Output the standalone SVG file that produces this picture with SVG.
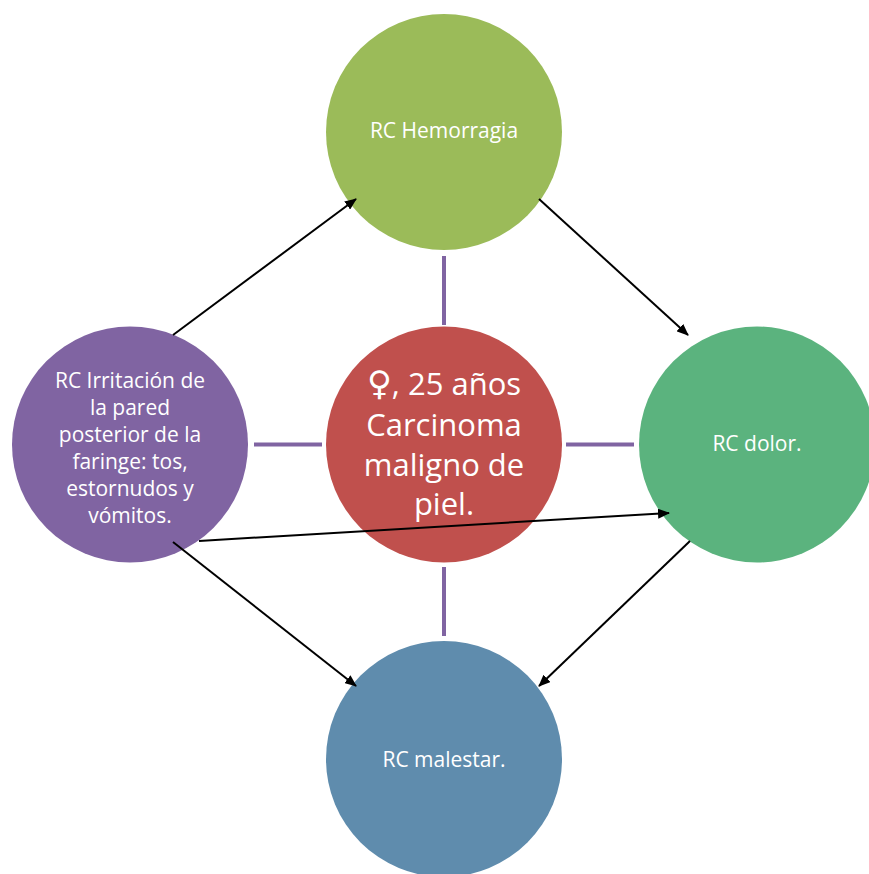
<svg xmlns="http://www.w3.org/2000/svg" width="869" height="874" viewBox="0 0 869 874">
<defs>
<style>
.t{font-family:"Open Sans","Noto Sans","Liberation Sans",sans-serif;fill:#ffffff;text-anchor:middle}
.s{font-size:21px}
.b{font-size:31px}
.sym{font-family:"DejaVu Sans","Noto Sans",sans-serif;font-size:34px}
.spoke{stroke:#8064a2;stroke-width:4}
.arr{stroke:#000;stroke-width:2;fill:none;marker-end:url(#ah)}
</style>
<marker id="ah" viewBox="0 0 12 10" refX="11" refY="5" markerWidth="12" markerHeight="10" markerUnits="userSpaceOnUse" orient="auto">
<path d="M0,0 L12,5 L0,10 z" fill="#000"/>
</marker>
</defs>
<rect width="869" height="874" fill="#ffffff"/>
<g id="spokes">
<line class="spoke" x1="444" y1="256" x2="444" y2="325"/>
<line class="spoke" x1="444" y1="567" x2="444" y2="636"/>
<line class="spoke" x1="254" y1="444.5" x2="322" y2="444.5"/>
<line class="spoke" x1="566" y1="444.5" x2="634" y2="444.5"/>
</g>
<g id="n-top">
<circle cx="444" cy="132" r="118" fill="#9bbb59"/>
<text class="t s" x="444" y="138">RC Hemorragia</text>
</g>
<g id="n-left">
<circle cx="130" cy="444.5" r="118" fill="#8064a2"/>
<text class="t s" x="130" y="388">RC Irritación de</text>
<text class="t s" x="130" y="415">la pared</text>
<text class="t s" x="130" y="442">posterior de la</text>
<text class="t s" x="130" y="469">faringe: tos,</text>
<text class="t s" x="130" y="496">estornudos y</text>
<text class="t s" x="130" y="523">vómitos.</text>
</g>
<g id="n-center">
<circle cx="444" cy="444.5" r="118" fill="#c0504d"/>
<text class="t b" x="444" y="395"><tspan class="sym">♀</tspan>, 25 años</text>
<text class="t b" x="444" y="436">Carcinoma</text>
<text class="t b" x="444" y="476">maligno de</text>
<text class="t b" x="444" y="515">piel.</text>
</g>
<g id="n-right">
<circle cx="757" cy="444.5" r="118" fill="#5bb37e"/>
<text class="t s" x="757" y="451">RC dolor.</text>
</g>
<g id="n-bottom">
<circle cx="444" cy="759" r="118" fill="#5f8cad"/>
<text class="t s" x="444" y="767">RC malestar.</text>
</g>
<g id="connectors">
<line class="arr" x1="173" y1="335" x2="356" y2="199"/>
<line class="arr" x1="539" y1="199" x2="688" y2="335"/>
<line class="arr" x1="199" y1="541" x2="669" y2="513"/>
<line class="arr" x1="173" y1="542" x2="356" y2="686"/>
<line class="arr" x1="690" y1="541" x2="539" y2="686"/>
</g>
</svg>
